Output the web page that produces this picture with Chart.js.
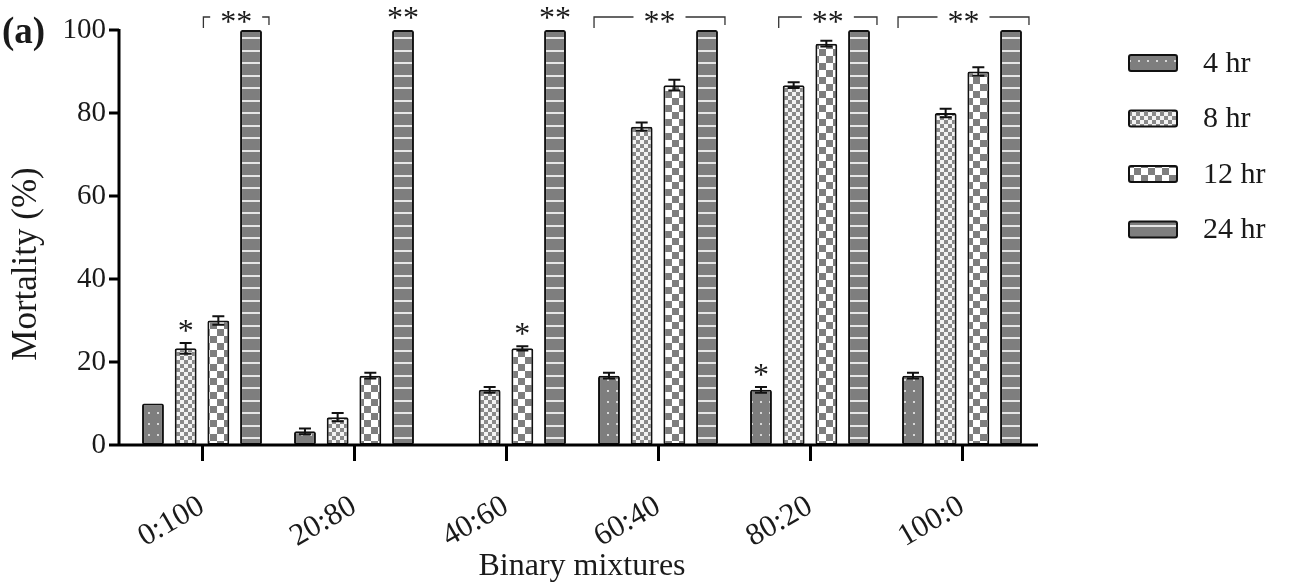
<!DOCTYPE html>
<html>
<head>
<meta charset="utf-8">
<script src="https://cdn.jsdelivr.net/npm/chart.js@4"></script>
<style>
  html, body { margin: 0; padding: 0; background: #fff; }
  #wrap { width: 1290px; height: 583px; }
</style>
</head>
<body>
<div id="wrap"><canvas id="myChart" width="1290" height="583"></canvas></div>
<script>
const mixtures = ["0:100", "20:80", "40:60", "60:40", "80:20", "100:0"];
const seriesLabels = ["4 hr", "8 hr", "12 hr", "24 hr"];
const mort4 = [10, 3.3, 0, 16.7, 13.3, 16.7];
const mort8 = [23.3, 6.7, 13.3, 76.7, 86.7, 80];
const mort12 = [30, 16.7, 23.3, 86.7, 96.7, 90];
const mort24 = [100, 100, 100, 100, 100, 100];
const err4 = [0, 0.7, 0, 0.7, 0.7, 0.7];
const err8 = [1.3, 1, 0.7, 1, 0.7, 1];
const err12 = [1, 0.7, 0.5, 1.3, 0.7, 1];
const err24 = [0, 0, 0, 0, 0, 0];
const yTicks = [0, 20, 40, 60, 80, 100];
// [mixture index, series index, mark]
const stars = [[0, 1, "*"], [2, 2, "*"], [4, 0, "*"], [1, 3, "**"], [2, 3, "**"]];
// [mixture index, first series, last series] under one "**" bracket
const brackets = [[0, 2, 3], [3, 0, 3], [4, 1, 3], [5, 0, 3]];

const serif = "'Liberation Serif', 'Times New Roman', serif";
const ink = "#1a1a1a";
const gray = "#7e7e7e";

const makePattern = (w, h, draw) => {
  const c = document.createElement("canvas");
  c.width = w;
  c.height = h;
  const g = c.getContext("2d");
  draw(g, w, h);
  return g.createPattern(c, "repeat");
};

const dotted = makePattern(9, 11, (g, w, h) => {
  g.fillStyle = gray;
  g.fillRect(0, 0, w, h);
  g.fillStyle = "#d8d8d8";
  g.fillRect(4, 5, 2, 2);
});
const fineCheck = makePattern(8, 8, (g) => {
  g.fillStyle = "#f4f4f4";
  g.fillRect(0, 0, 8, 8);
  g.fillStyle = "#8a8a8a";
  g.fillRect(0, 0, 4, 4);
  g.fillRect(4, 4, 4, 4);
});
const bigCheck = makePattern(14, 14, (g) => {
  g.fillStyle = "#ffffff";
  g.fillRect(0, 0, 14, 14);
  g.fillStyle = gray;
  g.fillRect(0, 0, 7, 7);
  g.fillRect(7, 7, 7, 7);
});
const striped = makePattern(4, 25, (g) => {
  g.fillStyle = gray;
  g.fillRect(0, 0, 4, 25);
  g.fillStyle = "#e6e6e6";
  g.fillRect(0, 0, 4, 2);
  g.fillRect(0, 12, 4, 2);
});

const fills = [dotted, fineCheck, bigCheck, striped];
const errs = [err4, err8, err12, err24];

const datasets = [mort4, mort8, mort12, mort24].map((data, i) => ({
  label: seriesLabels[i],
  data,
  errors: errs[i],
  backgroundColor: fills[i],
  borderColor: "#111",
  borderWidth: 2,
  borderSkipped: false,
  borderRadius: 2,
  categoryPercentage: 0.86,
  barPercentage: 0.67,
}));

// axis lines, y ticks, error bars, significance marks, titles and legend
const decorations = {
  id: "decorations",
  afterDatasetsDraw(chart) {
    const { ctx, chartArea, scales } = chart;
    const y = scales.y;
    const axisX = chartArea.left - 7;

    ctx.save();
    // error bars
    ctx.strokeStyle = "#111";
    ctx.lineWidth = 2;
    chart.data.datasets.forEach((ds, di) => {
      const meta = chart.getDatasetMeta(di);
      meta.data.forEach((el, i) => {
        const e = ds.errors[i];
        if (!e) return;
        const top = y.getPixelForValue(ds.data[i] + e);
        const bot = y.getPixelForValue(ds.data[i] - e);
        ctx.beginPath();
        ctx.moveTo(el.x, top);
        ctx.lineTo(el.x, bot);
        ctx.moveTo(el.x - 6, top);
        ctx.lineTo(el.x + 6, top);
        ctx.moveTo(el.x - 6, bot);
        ctx.lineTo(el.x + 6, bot);
        ctx.stroke();
      });
    });

    // axes
    ctx.strokeStyle = "#000";
    ctx.lineWidth = 3;
    ctx.beginPath();
    ctx.moveTo(axisX, chartArea.top - 1);
    ctx.lineTo(axisX, chartArea.bottom + 1.5);
    ctx.moveTo(axisX - 1.5, chartArea.bottom);
    ctx.lineTo(chartArea.right, chartArea.bottom);
    yTicks.forEach((v) => {
      const py = y.getPixelForValue(v);
      ctx.moveTo(axisX - 10, py);
      ctx.lineTo(axisX, py);
    });
    ctx.stroke();

    // single marks
    ctx.fillStyle = ink;
    ctx.font = "32px " + serif;
    ctx.textAlign = "center";
    ctx.textBaseline = "alphabetic";
    stars.forEach(([i, s, mark]) => {
      const el = chart.getDatasetMeta(s).data[i];
      const ds = chart.data.datasets[s];
      const top = y.getPixelForValue(ds.data[i] + ds.errors[i]);
      ctx.fillText(mark, el.x, top - 2);
    });

    // bracketed marks
    ctx.strokeStyle = "#333";
    ctx.lineWidth = 1.3;
    brackets.forEach(([i, a, b]) => {
      const ea = chart.getDatasetMeta(a).data[i];
      const eb = chart.getDatasetMeta(b).data[i];
      const left = ea.x - ea.width / 2 - 4;
      const right = eb.x + eb.width / 2 + 7;
      const mid = (left + right) / 2;
      const ly = chartArea.top - 13;
      const half = ctx.measureText("**").width / 2 + 10;
      ctx.beginPath();
      ctx.moveTo(left, ly + 11);
      ctx.lineTo(left, ly);
      ctx.lineTo(mid - half, ly);
      ctx.moveTo(mid + half, ly);
      ctx.lineTo(right, ly);
      ctx.lineTo(right, ly + 8);
      ctx.stroke();
      ctx.fillText("**", mid, ly + 15);
    });

    // panel letter
    ctx.textAlign = "left";
    ctx.font = "bold 37px " + serif;
    ctx.fillText("(a)", 2, 43);

    // y axis title
    ctx.save();
    ctx.translate(27, 264);
    ctx.rotate(-Math.PI / 2);
    ctx.textAlign = "center";
    ctx.textBaseline = "middle";
    ctx.font = "35px " + serif;
    ctx.fillText("Mortality (%)", 0, 0);
    ctx.restore();

    // legend
    ctx.textAlign = "left";
    ctx.font = "30px " + serif;
    ctx.textBaseline = "middle";
    chart.data.datasets.forEach((ds, di) => {
      const cy = 63 + di * 55.5;
      ctx.fillStyle = ds.backgroundColor;
      ctx.beginPath();
      ctx.roundRect(1129, cy - 8, 48, 16, 2);
      ctx.fill();
      ctx.strokeStyle = "#111";
      ctx.lineWidth = 2;
      ctx.stroke();
      ctx.fillStyle = ink;
      ctx.fillText(ds.label, 1203, cy + 1);
    });
    ctx.restore();
  },
};

const config = {
  type: "bar",
  data: { labels: mixtures, datasets },
  plugins: [decorations],
  options: {
    responsive: false,
    animation: false,
    layout: { padding: { top: 30, right: 252, bottom: 0, left: 0 } },
    plugins: {
      legend: { display: false },
      tooltip: { enabled: false },
    },
    scales: {
      x: {
        grid: {
          display: true,
          drawOnChartArea: false,
          offset: false,
          tickLength: 16,
          color: "#000",
          lineWidth: 3,
        },
        border: { display: false },
        ticks: {
          font: { family: serif, size: 31 },
          color: ink,
          minRotation: 30,
          maxRotation: 30,
          padding: 27,
        },
        title: {
          display: true,
          text: "Binary mixtures",
          font: { family: serif, size: 32 },
          color: ink,
          padding: { top: 0, bottom: -3 },
        },
        afterFit: (scale) => {
          scale.height = 138;
          scale.paddingLeft = 0;
          scale.paddingRight = 0;
        },
      },
      y: {
        min: 0,
        max: 100,
        grid: { display: false, drawTicks: false },
        border: { display: false },
        ticks: {
          stepSize: 20,
          padding: 20,
          font: { family: serif, size: 29 },
          color: ink,
        },
        afterFit: (scale) => {
          scale.width = 126;
          scale.paddingTop = 0;
          scale.paddingBottom = 0;
        },
      },
    },
  },
};

new Chart(document.getElementById("myChart").getContext("2d"), config);
</script>
</body>
</html>
